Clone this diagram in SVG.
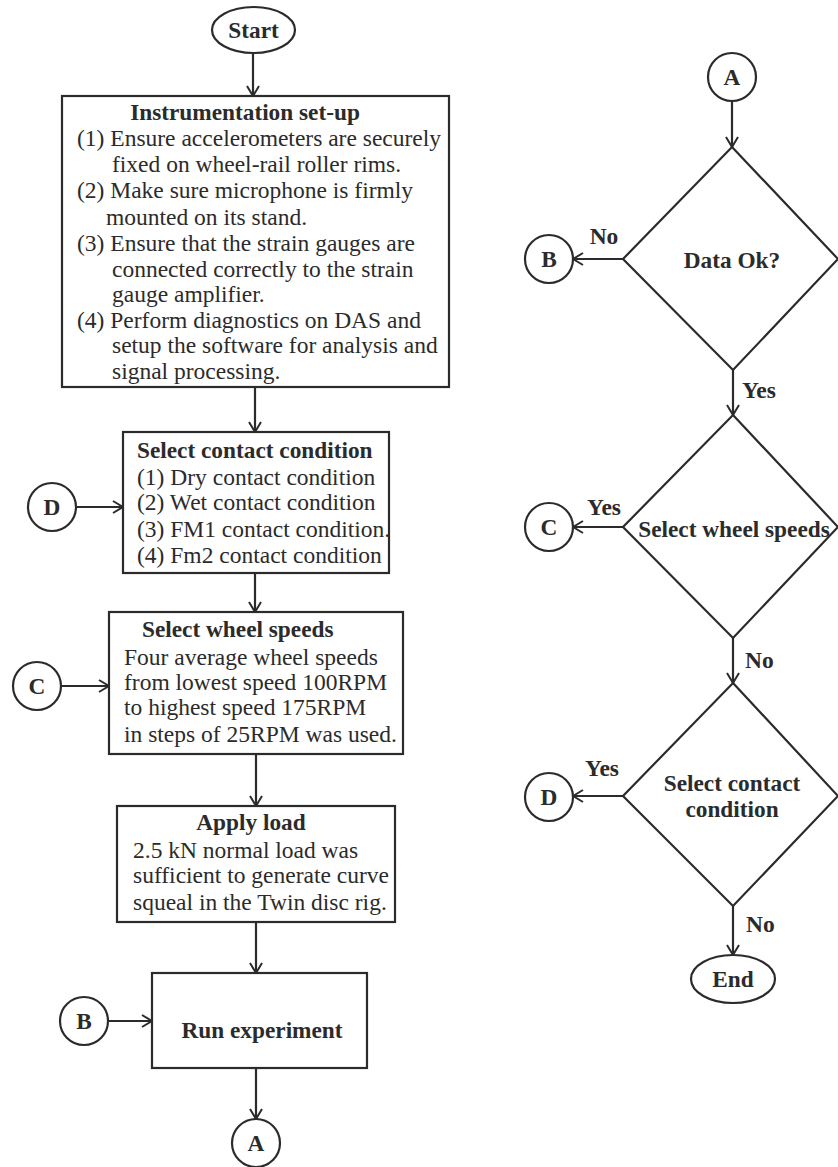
<svg xmlns="http://www.w3.org/2000/svg" width="838" height="1167" viewBox="0 0 838 1167">
<defs>
<marker id="arr" viewBox="0 0 12 14" refX="11" refY="7" markerWidth="12" markerHeight="14" markerUnits="userSpaceOnUse" orient="auto">
<path d="M1,1 L11,7 L1,13" fill="none" stroke="#2b2b2b" stroke-width="2"/>
</marker>
</defs>
<style>
.sh{fill:#fff;stroke:#2b2b2b;stroke-width:2.2}
.ln{fill:none;stroke:#2b2b2b;stroke-width:2.2;marker-end:url(#arr)}
text{font-family:"Liberation Serif","Times New Roman",serif;fill:#2b2b2b}
.b{font-weight:bold;font-size:23.3px}
.t{font-size:23.5px}
.c{text-anchor:middle}
.lb{font-weight:bold;font-size:23.5px}
</style>
<rect width="838" height="1167" fill="#fff"/>
<g id="connectors">
<line class="ln" x1="253" y1="53" x2="253" y2="96"/>
<line class="ln" x1="255" y1="387" x2="255" y2="432"/>
<line class="ln" x1="255" y1="573" x2="255" y2="612"/>
<line class="ln" x1="256" y1="754" x2="256" y2="806"/>
<line class="ln" x1="256" y1="922" x2="256" y2="973"/>
<line class="ln" x1="256" y1="1068" x2="256" y2="1119"/>
<line class="ln" x1="76" y1="507" x2="123" y2="507"/>
<line class="ln" x1="61" y1="686" x2="109" y2="686"/>
<line class="ln" x1="108" y1="1021" x2="152" y2="1021"/>
<line class="ln" x1="732" y1="101" x2="732" y2="147"/>
<line class="ln" x1="623" y1="259" x2="573" y2="259"/>
<line class="ln" x1="733" y1="370" x2="733" y2="415"/>
<line class="ln" x1="623" y1="527" x2="573" y2="527"/>
<line class="ln" x1="733" y1="638" x2="733" y2="683"/>
<line class="ln" x1="623" y1="796" x2="573" y2="796"/>
<line class="ln" x1="733" y1="906" x2="733" y2="955"/>
<text class="lb c" x="604" y="244">No</text>
<text class="lb" x="742" y="398">Yes</text>
<text class="lb c" x="604" y="515">Yes</text>
<text class="lb" x="745" y="668">No</text>
<text class="lb c" x="602" y="776">Yes</text>
<text class="lb" x="746" y="932">No</text>
</g>
<g id="start">
<ellipse class="sh" cx="253.5" cy="30" rx="41.5" ry="23"/>
<text class="b c" x="253.5" y="38">Start</text>
</g>
<g id="instrumentation">
<rect class="sh" x="62" y="96" width="387" height="291"/>
<text class="b c" x="245" y="120">Instrumentation set-up</text>
<text class="t" x="77" y="146">(1) Ensure accelerometers are securely</text>
<text class="t" x="112" y="172">fixed on wheel-rail roller rims.</text>
<text class="t" x="77" y="198">(2) Make sure microphone is firmly</text>
<text class="t" x="106" y="225">mounted on its stand.</text>
<text class="t" x="77" y="251">(3) Ensure that the strain gauges are</text>
<text class="t" x="112" y="277">connected correctly to the strain</text>
<text class="t" x="112" y="302">gauge amplifier.</text>
<text class="t" x="77" y="328">(4) Perform diagnostics on DAS and</text>
<text class="t" x="112" y="353">setup the software for analysis and</text>
<text class="t" x="112" y="379">signal processing.</text>
</g>
<g id="contact">
<rect class="sh" x="123" y="432" width="266" height="141"/>
<text class="b" x="137" y="458">Select contact condition</text>
<text class="t" x="137" y="485">(1) Dry contact condition</text>
<text class="t" x="137" y="510">(2) Wet contact condition</text>
<text class="t" x="137" y="537">(3) FM1 contact condition.</text>
<text class="t" x="137" y="563">(4) Fm2 contact condition</text>
</g>
<g id="speeds">
<rect class="sh" x="109" y="612" width="294" height="142"/>
<text class="b" x="142" y="637">Select wheel speeds</text>
<text class="t" x="124" y="665">Four average wheel speeds</text>
<text class="t" x="124" y="690">from lowest speed 100RPM</text>
<text class="t" x="124" y="715">to highest speed 175RPM</text>
<text class="t" x="124" y="742">in steps of 25RPM was used.</text>
</g>
<g id="load">
<rect class="sh" x="117" y="806" width="278" height="116"/>
<text class="b c" x="251" y="830">Apply load</text>
<text class="t" x="133" y="858">2.5 kN normal load was</text>
<text class="t" x="133" y="883">sufficient to generate curve</text>
<text class="t" x="133" y="910">squeal in the Twin disc rig.</text>
</g>
<g id="run">
<rect class="sh" x="152" y="973" width="215" height="95"/>
<text class="b c" x="262" y="1038">Run experiment</text>
</g>
<g id="connD">
<circle class="sh" cx="52" cy="507" r="24"/>
<text class="b c" x="52" y="515">D</text>
</g>
<g id="connC">
<circle class="sh" cx="37" cy="686" r="24"/>
<text class="b c" x="37" y="694">C</text>
</g>
<g id="connB">
<circle class="sh" cx="84" cy="1021" r="24"/>
<text class="b c" x="84" y="1029">B</text>
</g>
<g id="connA">
<circle class="sh" cx="256" cy="1143" r="24"/>
<text class="b c" x="256" y="1151">A</text>
</g>
<g id="connA2">
<circle class="sh" cx="732" cy="77" r="24"/>
<text class="b c" x="732" y="85">A</text>
</g>
<g id="dataok">
<polygon class="sh" points="732,147 838,259 733,370 623,259"/>
<text class="b c" x="732" y="268">Data Ok?</text>
</g>
<g id="connB2">
<circle class="sh" cx="549" cy="259" r="24"/>
<text class="b c" x="549" y="267">B</text>
</g>
<g id="speedsq">
<polygon class="sh" points="733,415 838,527 733,638 623,527"/>
<text class="b c" x="734" y="537">Select wheel speeds</text>
</g>
<g id="connC2">
<circle class="sh" cx="549" cy="527" r="24"/>
<text class="b c" x="549" y="535">C</text>
</g>
<g id="contactq">
<polygon class="sh" points="733,683 838,796 733,906 623,796"/>
<text class="b c" x="732" y="791">Select contact</text>
<text class="b c" x="732" y="817">condition</text>
</g>
<g id="connD2">
<circle class="sh" cx="549" cy="797" r="24"/>
<text class="b c" x="549" y="805">D</text>
</g>
<g id="end">
<ellipse class="sh" cx="733" cy="979" rx="42" ry="24"/>
<text class="b c" x="733" y="987">End</text>
</g>
</svg>
